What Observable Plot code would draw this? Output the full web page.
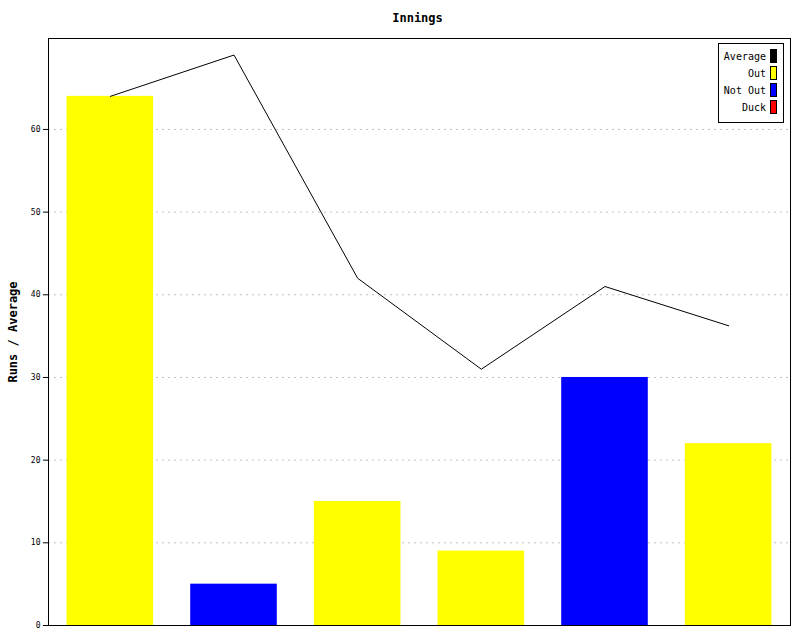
<!DOCTYPE html>
<html>
<head>
<meta charset="utf-8">
<script src="https://cdn.jsdelivr.net/npm/d3@7"></script>
<script src="https://cdn.jsdelivr.net/npm/@observablehq/plot@0.6"></script>
<style>
  html, body { margin: 0; padding: 0; background: #fff; }
  #wrap { position: relative; width: 800px; height: 640px; }
  #legend {
    position: absolute; left: 718px; top: 43px; width: 66px; height: 80px;
    border: 1px solid #000; background: #fff; box-sizing: border-box;
    font-family: "DejaVu Sans Mono", monospace; font-size: 10px; color: #000;
  }
  .row { position: absolute; right: 6px; height: 14px; display: flex; align-items: center; }
  .row span.sw { display: inline-block; width: 5px; height: 12px; border: 1px solid #000; margin-left: 4px; }
</style>
</head>
<body>
<div id="wrap"></div>
<script>
const innings = ["1", "2", "3", "4", "5", "6"];
const runs = [64, 5, 15, 9, 30, 22];
const status = ["Out", "Not Out", "Out", "Out", "Not Out", "Out"];
const average = [64, 69, 42, 31, 41, 36.25];
const yTicks = [0, 10, 20, 30, 40, 50, 60];
const legendLabels = ["Average", "Out", "Not Out", "Duck"];
const legendColors = ["#000000", "#ffff00", "#0000ff", "#ff0000"];

const colorOf = {"Out": "#ffff00", "Not Out": "#0000ff", "Duck": "#ff0000"};
const data = innings.map((k, i) => ({inning: k, runs: runs[i], status: status[i], avg: average[i]}));
const mono = "DejaVu Sans Mono, monospace";

const chart = Plot.plot({
  width: 800,
  height: 640,
  marginLeft: 48,
  marginRight: 10,
  marginTop: 38,
  marginBottom: 15,
  style: {fontFamily: mono, fontSize: "8px", background: "#fff"},
  x: {domain: innings, paddingInner: 0.3, paddingOuter: 0.15, round: false, axis: null},
  y: {domain: [0, 71], ticks: yTicks, tickSize: 5, tickPadding: 3, label: null},
  marks: [
    Plot.gridY(yTicks.filter(t => t > 0), {stroke: "#c0c0c0", strokeOpacity: 1, strokeDasharray: "2,4"}),
    Plot.barY(data, {x: "inning", y: "runs", fill: d => colorOf[d.status]}),
    Plot.lineY(data, {x: "inning", y: "avg", stroke: "#000", strokeWidth: 1}),
    Plot.axisY({ticks: yTicks, tickSize: 5, tickPadding: 3, label: null, fontSize: 8}),
    Plot.frame({stroke: "#000", strokeWidth: 1}),
    Plot.text(["Innings"], {frameAnchor: "top", dx: -2, dy: -17, lineAnchor: "bottom", fontWeight: "bold", fontSize: 12, fontFamily: mono}),
    Plot.text(["Runs / Average"], {frameAnchor: "left", textAnchor: "middle", dx: -35, rotate: -90, fontWeight: "bold", fontSize: 12, fontFamily: mono})
  ]
});
document.getElementById("wrap").appendChild(chart);

const leg = document.createElement("div");
leg.id = "legend";
legendLabels.forEach((lab, i) => {
  const r = document.createElement("div");
  r.className = "row";
  r.style.top = (5 + i * 17) + "px";
  r.innerHTML = `<span>${lab}</span><span class="sw" style="background:${legendColors[i]}"></span>`;
  leg.appendChild(r);
});
document.getElementById("wrap").appendChild(leg);
</script>
</body>
</html>
